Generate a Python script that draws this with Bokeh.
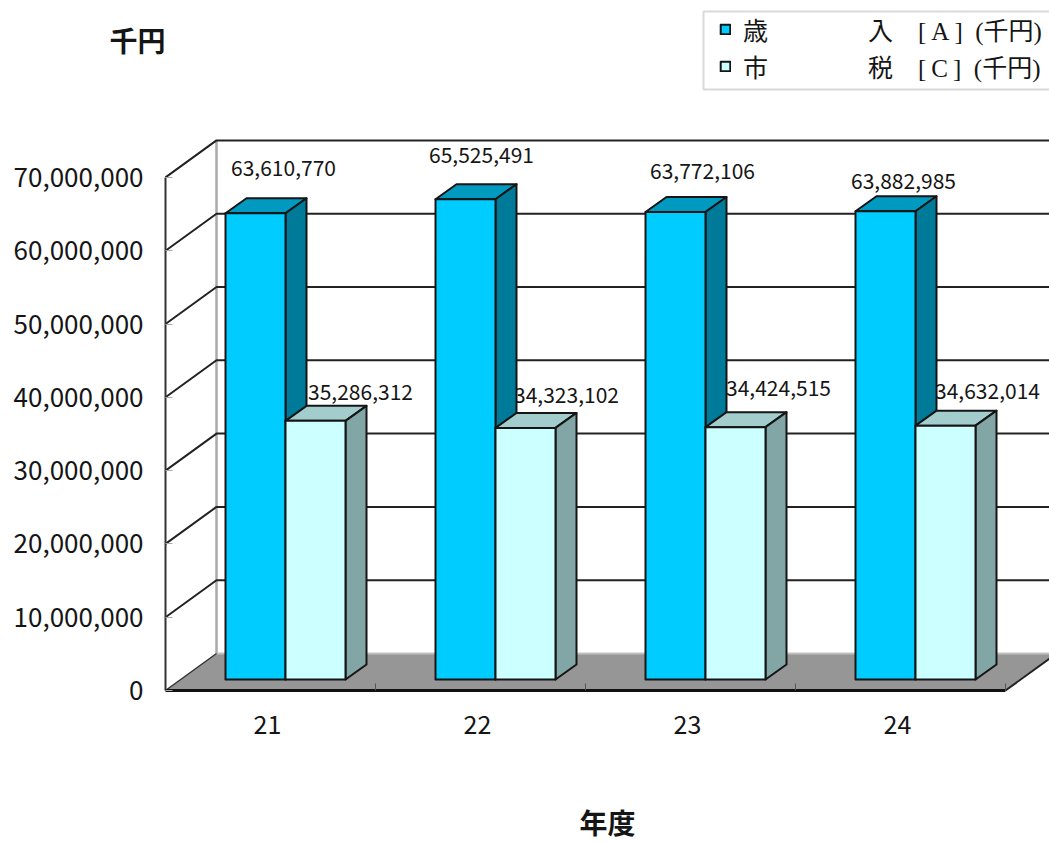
from bokeh.plotting import figure
from bokeh.embed import file_html
from bokeh.resources import INLINE
from bokeh.models import (ColumnDataSource, FixedTicker, Legend, LegendItem, Label, BoxAnnotation,
                          Range1d, NumeralTickFormatter)
from bokeh.core.properties import value

years = ["21", "22", "23", "24"]
revenue = [63610770, 65525491, 63772106, 63882985]
city_tax = [35286312, 34323102, 34424515, 34632014]
y_ticks = [0, 10000000, 20000000, 30000000, 40000000, 50000000, 60000000, 70000000]
legend_a = "歳\u3000\u3000\u3000\u3000入\u2003[\u2009A\u2009]\u2002(千円)"
legend_b = "市\u3000\u3000\u3000\u3000税\u2003[\u2009C\u2009]\u2002(千円)"
y_title = "千円"
x_title = "年度"

# layout: pixel scale of the page
PX_Y = 7.33 / 1e6      # px per yen-thousand
PX_X = 210.0           # px per category
W, H = 1049, 843
LEFT, AXIS_Y = 165, 690
NUM_FONT = "Noto Sans CJK JP"

def dx(px): return px / PX_X
def dy(px): return px / PX_Y

X_END = (W - LEFT) / PX_X
WALL_DX, WALL_DY = dx(51), dy(37)
BAR_X0, BAR_W = dx(60), dx(60)
BAR_BASE = dy(11)
DEPTH_X, DEPTH_Y = dx(21), dy(15)
INK = "#151515"

p = figure(width=W, height=H, output_backend="svg", toolbar_location=None,
           x_range=Range1d(-dx(LEFT), X_END), y_range=Range1d(-dy(H - AXIS_Y), dy(AXIS_Y)),
           min_border_left=0, min_border_right=0, min_border_top=0, min_border_bottom=0,
           outline_line_color=None, background_fill_color="white", border_fill_color="white")
p.grid.visible = False

# y axis
ya = p.yaxis[0]
ya.fixed_location = 0
ya.ticker = FixedTicker(ticks=y_ticks)
ya.formatter = NumeralTickFormatter(format="0,0")
ya.major_label_text_font = NUM_FONT
ya.major_label_text_font_size = "26px"
ya.major_label_text_color = INK
ya.major_label_standoff = 22
ya.major_tick_in = 7
ya.major_tick_out = 0
ya.major_tick_line_color = "#aaaaaa"
ya.minor_tick_line_color = None
ya.axis_line_color = "#333333"
ya.axis_line_width = 2
ya.bounds = (0, 70000000)

# x axis
xa = p.xaxis[0]
xa.fixed_location = 0
n = len(years)
label_x = [i + 0.5 - dx(3) for i in range(n)]
xa.ticker = FixedTicker(ticks=label_x, minor_ticks=list(range(n + 1)))
xa.major_label_overrides = dict(zip(label_x, years))
xa.major_label_text_font = NUM_FONT
xa.major_label_text_font_size = "25px"
xa.major_label_text_color = INK
xa.major_label_standoff = 24
xa.major_tick_line_color = None
xa.major_tick_in = 0
xa.major_tick_out = 0
xa.minor_tick_in = 7
xa.minor_tick_out = 0
xa.minor_tick_line_color = "#555555"
xa.axis_line_color = "#111111"
xa.axis_line_width = 3
xa.bounds = (0, n)

# floor
p.patch([0, n, n + WALL_DX, WALL_DX], [0, 0, WALL_DY, WALL_DY], fill_color="#969696", line_color=None)
p.line([WALL_DX, X_END], [WALL_DY, WALL_DY], line_color="#c0c0c0", line_width=2)
p.line([n, n + WALL_DX], [0, WALL_DY], line_color="#222222", line_width=2)

# back wall and side wall
p.line([WALL_DX, WALL_DX], [WALL_DY, 70000000 + WALL_DY], line_color="#aaaaaa", line_width=2.5)
for t in y_ticks[1:]:
    p.line([0, WALL_DX, X_END], [t, t + WALL_DY, t + WALL_DY], line_color="#222222", line_width=2)
p.line([0, WALL_DX], [0, WALL_DY], line_color="#333333", line_width=1.5)

# data labels (behind the bars)
lab_a = dict(x=[i + BAR_X0 + dx(d) for i, d in enumerate([58, 46, 57, 48])],
             y=[v + BAR_BASE + dy(d) for v, d in zip(revenue, [45, 44, 41, 30])],
             t=[f"{v:,}" for v in revenue])
lab_b = dict(x=[i + BAR_X0 + BAR_W + dx(d) for i, d in enumerate([75, 71, 73, 72])],
             y=[v + BAR_BASE + dy(d) for v, d in zip(city_tax, [29, 33, 39, 35])],
             t=[f"{v:,}" for v in city_tax])
for lab in (lab_a, lab_b):
    p.text("x", "y", text="t", source=ColumnDataSource(lab), text_align="center", text_baseline="middle",
           text_font=value(NUM_FONT), text_font_size="21px", text_color=INK)

def bars(vals, col, front, top, side):
    x0 = [i + BAR_X0 + col * BAR_W for i in range(len(vals))]
    x1 = [x + BAR_W for x in x0]
    y0 = [BAR_BASE] * len(vals)
    y1 = [v + BAR_BASE for v in vals]
    line = dict(line_color=INK, line_width=2, line_join="round")
    p.patches([[a, b, b + DEPTH_X, a + DEPTH_X] for a, b in zip(x0, x1)],
              [[t, t, t + DEPTH_Y, t + DEPTH_Y] for t in y1], fill_color=top, **line)
    p.patches([[b, b + DEPTH_X, b + DEPTH_X, b] for b in x1],
              [[l, l + DEPTH_Y, t + DEPTH_Y, t] for l, t in zip(y0, y1)], fill_color=side, **line)
    return p.quad(left=x0, right=x1, bottom=y0, top=y1, fill_color=front, **line)

r_a = bars(revenue, 0, "#00CCFF", "#0099C0", "#007A99")
r_b = bars(city_tax, 1, "#CCFFFF", "#A3CCCC", "#82A6A6")

# legend frame + legend
box = BoxAnnotation(left=703, right=1100, top=11, bottom=89,
                    left_units="canvas", right_units="canvas", top_units="canvas", bottom_units="canvas",
                    fill_color="white", fill_alpha=1, line_color="#808080", line_width=2, level="overlay")
p.add_layout(box)
leg = Legend(items=[LegendItem(label=legend_a, renderers=[r_a]), LegendItem(label=legend_b, renderers=[r_b])],
             location=(719, H - 84), orientation="vertical",
             padding=16, margin=0, spacing=1, glyph_width=12, glyph_height=12, label_height=25,
             label_standoff=12, label_text_font="Liberation Serif, Noto Sans CJK JP", label_text_font_size="25px",
             label_text_color=INK, label_text_baseline="middle",
             border_line_color=None, background_fill_alpha=0, level="overlay")
p.add_layout(leg, "center")

for text, px, py in ((y_title, 137, 39), (x_title, 607, 821)):
    p.add_layout(Label(x=px, y=H - py, x_units="screen", y_units="screen", text=text,
                       text_font="Noto Sans CJK JP", text_font_size="28px", text_font_style="bold", text_color=INK,
                       text_align="center", text_baseline="middle", level="overlay"))

open("out.html", "w").write(file_html(p, INLINE))
